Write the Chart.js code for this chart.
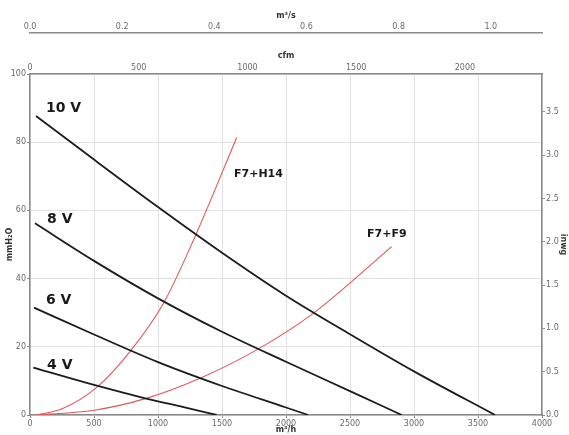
<!DOCTYPE html>
<html>
<head>
<meta charset="utf-8">
<script src="https://cdn.jsdelivr.net/npm/chart.js@4"></script>
<style>
  html, body { margin: 0; padding: 0; background: #fff; }
  #wrap { width: 569px; height: 435px; }
</style>
</head>
<body>
<div id="wrap"><canvas id="fanChart"></canvas></div>
<script>
// fan curves (m3/h vs mmH2O)
const flow10V = [47, 500, 1000, 1500, 2000, 2500, 3000, 3633];
const press10V = [87.7, 74.9, 61, 47.6, 35.0, 23.7, 12.8, 0];
const flow8V = [39, 500, 1000, 1500, 2000, 2500, 2904];
const press8V = [56.2, 45.2, 34.2, 24.4, 15.6, 7.0, 0];
const flow6V = [31, 500, 1000, 1500, 2000, 2174];
const press6V = [31.5, 23.6, 15.5, 8.5, 2.2, 0];
const flow4V = [26, 500, 900, 1200, 1458];
const press4V = [13.9, 8.8, 4.9, 2.3, 0];

// filter system curves
const flowH14 = [50, 250, 521, 781, 1042, 1289, 1615];
const pressH14 = [0, 1.8, 8.1, 18.6, 32.7, 52.3, 81.4];
const flowF9 = [50, 500, 900, 1328, 1771, 2213, 2826];
const pressF9 = [0, 1.4, 4.8, 10.8, 19.1, 29.8, 49.4];

// tick labels
const flowTicks = [0, 500, 1000, 1500, 2000, 2500, 3000, 3500, 4000];
const pressTicks = [0, 20, 40, 60, 80, 100];
const cfmTicks = [0, 500, 1000, 1500, 2000];
const m3sTicks = [0, 0.2, 0.4, 0.6, 0.8, 1.0];
const inwgTicks = [0, 0.5, 1.0, 1.5, 2.0, 2.5, 3.0, 3.5];

// curve labels: text, left edge flow, pressure
const labelText = ["10 V", "8 V", "6 V", "4 V", "F7+H14", "F7+F9"];
const labelFlow = [125, 133, 125, 133, 1594, 2633];
const labelPress = [90, 57.5, 33.7, 14.7, 70.7, 53];

const M3H_PER_CFM = 1.699;
const MMH2O_PER_INWG = 25.4;

function pts(xs, ys) {
  return xs.map((x, i) => ({ x: x, y: ys[i] }));
}
function fixedTicks(list) {
  return s => { s.ticks = list.map(v => ({ value: v })); };
}

const tickFont = { family: "DejaVu Sans", size: 8 };
const titleFont = { family: "DejaVu Sans", size: 8, weight: "bold" };
const axisGrey = "#8a8a8a";
const tickGrey = "#6a6a6a";

const curveLabels = {
  id: "curveLabels",
  afterDatasetsDraw(chart) {
    const ctx = chart.ctx;
    const xs = chart.scales.x, ys = chart.scales.y;
    ctx.save();
    ctx.fillStyle = "#1a1a1a";
    ctx.textAlign = "left";
    ctx.textBaseline = "middle";
    labelText.forEach((t, i) => {
      const big = t.indexOf("V") > 0;
      ctx.font = "bold " + (big ? 14 : 11) + "px 'DejaVu Sans'";
      ctx.fillText(t, xs.getPixelForValue(labelFlow[i]), ys.getPixelForValue(labelPress[i]));
    });
    ctx.restore();
  }
};

const black = { borderColor: "#1c1c1c", borderWidth: 1.8 };
const red = { borderColor: "#e0575a", borderWidth: 1.1 };

new Chart(document.getElementById("fanChart"), {
  type: "line",
  data: {
    datasets: [
      Object.assign({ label: "10 V", data: pts(flow10V, press10V) }, black),
      Object.assign({ label: "8 V", data: pts(flow8V, press8V) }, black),
      Object.assign({ label: "6 V", data: pts(flow6V, press6V) }, black),
      Object.assign({ label: "4 V", data: pts(flow4V, press4V) }, black),
      Object.assign({ label: "F7+H14", data: pts(flowH14, pressH14) }, red),
      Object.assign({ label: "F7+F9", data: pts(flowF9, pressF9) }, red)
    ]
  },
  options: {
    responsive: true,
    maintainAspectRatio: false,
    animation: false,
    layout: { padding: 0 },
    elements: {
      point: { radius: 0 },
      line: { cubicInterpolationMode: "monotone", fill: false }
    },
    plugins: {
      legend: { display: false },
      tooltip: { enabled: false }
    },
    scales: {
      x: {
        type: "linear", position: "bottom", min: 0, max: 4000,
        afterFit: s => { s.height = 20; },
        afterBuildTicks: fixedTicks(flowTicks),
        ticks: { autoSkip: false, maxRotation: 0, padding: 1, color: tickGrey, font: tickFont, callback: v => v },
        grid: { color: "#e2e2e2", tickLength: 3, tickColor: axisGrey },
        border: { color: axisGrey, width: 1.5 },
        title: { display: true, text: "m³/h", color: "#333", font: titleFont, padding: { top: 0, bottom: 0 } }
      },
      cfm: {
        type: "linear", position: "top", weight: 0, min: 0, max: 4000 / M3H_PER_CFM,
        afterFit: s => { s.height = 41; },
        afterBuildTicks: fixedTicks(cfmTicks),
        ticks: { autoSkip: false, maxRotation: 0, padding: 1, color: tickGrey, font: tickFont, callback: v => v },
        grid: { drawOnChartArea: false, drawTicks: false },
        border: { color: axisGrey, width: 1.5 },
        title: { display: true, text: "cfm", color: "#333", font: titleFont, padding: { top: 18, bottom: 0 } }
      },
      m3s: {
        type: "linear", position: "top", weight: 1, min: 0, max: 4000 / 3600,
        afterFit: s => { s.height = 33; },
        afterBuildTicks: fixedTicks(m3sTicks),
        ticks: { autoSkip: false, maxRotation: 0, padding: 1, color: tickGrey, font: tickFont, callback: v => v.toFixed(1) },
        grid: { drawOnChartArea: false, drawTicks: false },
        border: { color: axisGrey, width: 1.5 },
        title: { display: true, text: "m³/s", color: "#333", font: titleFont, padding: { top: 11, bottom: 0 } }
      },
      y: {
        type: "linear", position: "left", min: 0, max: 100,
        afterFit: s => { s.width = 30; },
        afterBuildTicks: fixedTicks(pressTicks),
        ticks: { autoSkip: false, padding: 1, color: tickGrey, font: tickFont },
        grid: { color: "#e2e2e2", tickLength: 3, tickColor: axisGrey },
        border: { color: axisGrey, width: 1.5 },
        title: { display: true, text: "mmH₂O", color: "#333", font: titleFont, padding: { top: 5, bottom: 0 } }
      },
      y2: {
        type: "linear", position: "right", min: 0, max: 100 / MMH2O_PER_INWG,
        afterFit: s => { s.width = 27; },
        afterBuildTicks: fixedTicks(inwgTicks),
        ticks: { autoSkip: false, padding: 1, color: tickGrey, font: tickFont, callback: v => v.toFixed(1) },
        grid: { drawOnChartArea: false, tickLength: 3, tickColor: axisGrey },
        border: { color: axisGrey, width: 1.5 },
        title: { display: true, text: "inwg", color: "#333", font: titleFont, padding: { top: 1, bottom: 0 } }
      }
    }
  },
  plugins: [curveLabels]
});
</script>
</body>
</html>
